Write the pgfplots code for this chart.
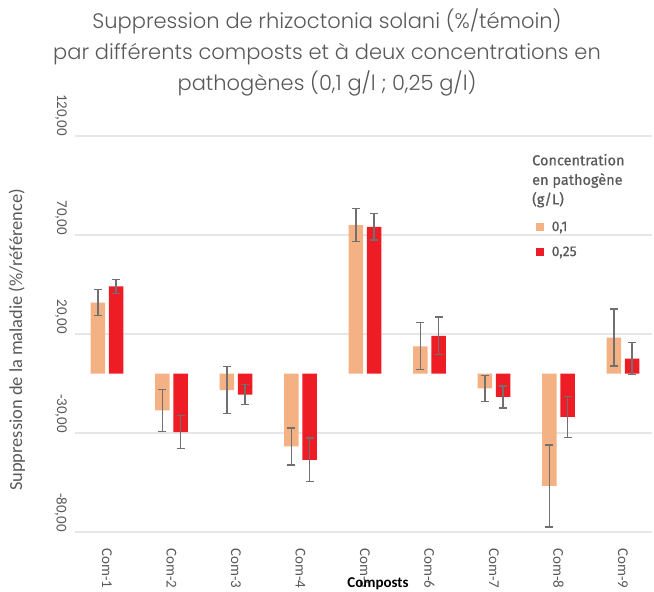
\documentclass[border=0pt]{standalone}
\usepackage{fontspec}
\setmainfont{Carlito}
\newfontfamily\titlefont{Poppins Light}
\newfontfamily\legfont{Fira Sans}[FakeBold=0.6]
\usepackage{pgfplots}
\pgfplotsset{compat=1.18}
\definecolor{cOr}{HTML}{F4B183}
\definecolor{cRd}{HTML}{EE1C25}
\definecolor{txt}{HTML}{595959}
\definecolor{grd}{HTML}{E6E6E6}
\definecolor{errc}{HTML}{707070}
\begin{document}
\begin{tikzpicture}[x=1pt,y=1pt]
\path[use as bounding box] (0,0) rectangle (654,592);
\begin{axis}[
  at={(75pt,60pt)}, anchor=south west,
  scale only axis, width=577pt, height=396pt,
  xmin=0.504, xmax=9.45, ymin=-80, ymax=120,
  ybar, bar width=0.225,
  axis line style={draw=none},
  major tick length=0pt,
  ytick={-80,-30,20,70,120},
  yticklabels={{-80,00},{-30,00},{20,00},{70,00},{120,00}},
  ymajorgrids, grid style={grd, line width=1.3pt},
  xtick={1,...,9},
  xticklabels={Com-1,Com-2,Com-3,Com-4,Com-5,Com-6,Com-7,Com-8,Com-9},
  ticklabel style={font=\fontsize{15}{18}\selectfont, text=txt, inner sep=0pt},
  yticklabel style={xshift=-8pt, rotate=-90, anchor=north east},
  xticklabel style={yshift=-16pt, rotate=-90, anchor=west},
  legend style={at={(rel axis cs:0.799,0.7845)}, anchor=north west, draw=none, fill=none,
    font=\legfont\fontsize{14}{17}\selectfont, text=txt, inner sep=0pt,
    nodes={inner sep=0pt}, row sep=14pt,
    /tikz/every odd column/.append style={column sep=7.5pt}},
  legend cell align=left,
  legend image code/.code={\fill[#1,draw=none] (0pt,-4pt) rectangle (8pt,4pt);},
  error bars/error bar style={errc, line width=1.3pt},
  error bars/error mark options={rotate=90, mark size=4pt, line width=1.3pt, errc},
]
\addplot[fill=cOr, draw=none, bar shift=-0.141,
  error bars/.cd, y dir=both, y explicit]
  coordinates {
  (1,35.8) +- (0,6.5)
  (2,-18.6) +- (0,10.6)
  (3,-8.3) +- (0,12.0)
  (4,-36.8) +- (0,9.4)
  (5,75.0) +- (0,8.4)
  (6,13.8) +- (0,11.9)
  (7,-7.4) +- (0,6.6)
  (8,-56.7) +- (0,20.7)
  (9,18.2) +- (0,14.4)
  };
\addlegendentry{0,1}
\addplot[fill=cRd, draw=none, bar shift=0.141,
  error bars/.cd, y dir=both, y explicit]
  coordinates {
  (1,44.1) +- (0,3.5)
  (2,-29.6) +- (0,8.4)
  (3,-10.6) +- (0,5.0)
  (4,-43.6) +- (0,11.0)
  (5,74.1) +- (0,6.6)
  (6,19.1) +- (0,9.5)
  (7,-11.8) +- (0,5.5)
  (8,-21.9) +- (0,10.3)
  (9,7.6) +- (0,8.1)
  };
\addlegendentry{0,25}
\node[anchor=north west, align=left, inner sep=0pt, text=txt,
  font=\legfont\fontsize{14.5}{19.5}\selectfont]
  at (rel axis cs:0.792,0.955) {Concentration\\en pathogène\\(g/L)};
\end{axis}
\node[align=center, text=txt, font=\titlefont\fontsize{21}{31}\selectfont]
  at (327,540) {Suppression de rhizoctonia solani (\%/témoin)\\par différents composts et à deux concentrations en\\pathogènes (0,1 g/l ; 0,25 g/l)};
\node[rotate=90, text=txt, font=\fontsize{18.4}{22}\selectfont] at (17,252)
  {Suppression de la maladie (\%/référence)};
\node[anchor=base, font=\bfseries\fontsize{15}{18}\selectfont] at (378,4.5) {Composts};
\end{tikzpicture}
\end{document}
